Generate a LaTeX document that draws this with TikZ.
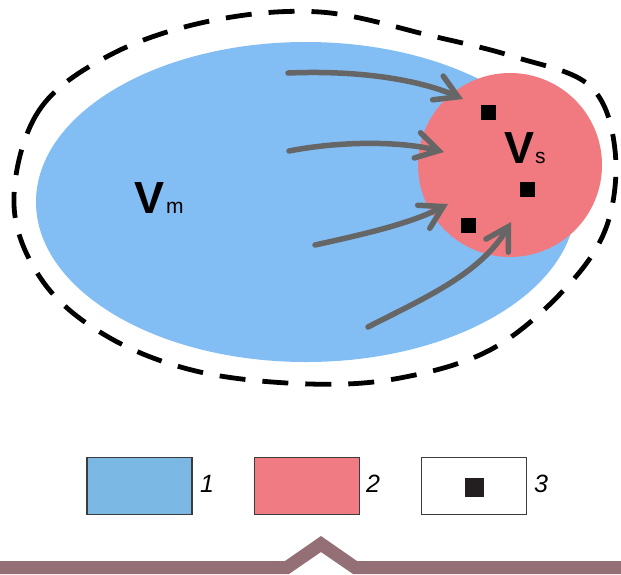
\documentclass[tikz,border=0pt]{standalone}
\usepackage{fontspec}
\setmainfont{Liberation Sans}
\usetikzlibrary{arrows.meta}
\definecolor{bluefill}{RGB}{130,190,244}
\definecolor{redfill}{RGB}{241,122,128}
\definecolor{legblue}{RGB}{123,184,228}
\definecolor{legred}{RGB}{241,123,130}
\definecolor{arrgray}{RGB}{102,102,102}
\definecolor{barcol}{RGB}{148,112,118}
\definecolor{boxline}{RGB}{60,60,60}
\definecolor{sqcol}{RGB}{35,31,32}
\begin{document}
\begin{tikzpicture}[x=1pt,y=-1pt,
  dashline/.style={line width=4.8pt,dash pattern=on 26pt off 17pt},
  arr/.style={draw=arrgray,line width=5.5pt,line cap=round,
    -{Straight Barb[length=22pt,width=26pt,line cap=round]}},
  sq/.style={fill=black,inner sep=0pt,minimum size=15pt},
  legbox/.style={draw=boxline,line width=1.2pt,minimum width=105pt,minimum height=57pt,inner sep=0pt},
  legnum/.style={font=\fontsize{25}{25}\selectfont\itshape,anchor=base},
  biglbl/.style={anchor=base west,inner sep=0pt}]
\useasboundingbox (0,0) rectangle (621,574);
\fill[white] (0,0) rectangle (621,574);
% regions
\fill[bluefill] (306,202) ellipse [x radius=270, y radius=160];
\fill[redfill] (510,165) circle [radius=92];
% outer dashed boundary
\draw[dashline] plot[smooth cycle, tension=0.6] coordinates {
 (14,205) (38,112) (110,55) (210,21) (320,12) (432,36) (515,57) (590,86)
 (615,150) (606,228) (562,292) (490,350) (400,378) (310,384) (200,372)
 (110,338) (44,283)};
% sources
\node[sq] (s1) at (488,112) {};
\node[sq] (s2) at (527,189) {};
\node[sq] (s3) at (468,225) {};
% arrows
\coordinate (a1s) at (288,73);  \coordinate (a1e) at (463,99);
\coordinate (a2s) at (289,151); \coordinate (a2e) at (444,152);
\coordinate (a3s) at (315,245); \coordinate (a3e) at (448,204);
\coordinate (a4s) at (368,327); \coordinate (a4e) at (511,222);
\draw[arr] (a1s) .. controls (360,70) and (420,80) .. (a1e);
\draw[arr] (a2s) .. controls (340,141) and (400,141) .. (a2e);
\draw[arr] (a3s) .. controls (360,235) and (410,224) .. (a3e);
\draw[arr] (a4s) .. controls (420,300) and (480,275) .. (a4e);
% labels
\node[biglbl] (vm) at (134,213) {\fontsize{45}{45}\selectfont\bfseries V\fontsize{21}{21}\selectfont\mdseries\hspace{2pt}m};
\node[biglbl] (vs) at (504,163) {\fontsize{45}{45}\selectfont\bfseries V\fontsize{21}{21}\selectfont\mdseries\hspace{1pt}s};
% legend
\node[legbox,fill=legblue] (l1) at (139.5,486) {};
\node[legbox,fill=legred] (l2) at (307,486) {};
\node[legbox,fill=white] (l3) at (474,486) {};
\node[fill=sqcol,inner sep=0pt,minimum size=19pt] (l3sq) at (474,487) {};
\node[legnum] (n1) at (207,492) {1};
\node[legnum] (n2) at (373,492) {2};
\node[legnum] (n3) at (541,492) {3};
% bottom bar
\fill[barcol] (0,561) -- (285,561) -- (321,536) -- (357,561) -- (621,561) -- (621,574)
  -- (353,574) -- (321,552) -- (289,574) -- (0,574) -- cycle;
\end{tikzpicture}
\end{document}
